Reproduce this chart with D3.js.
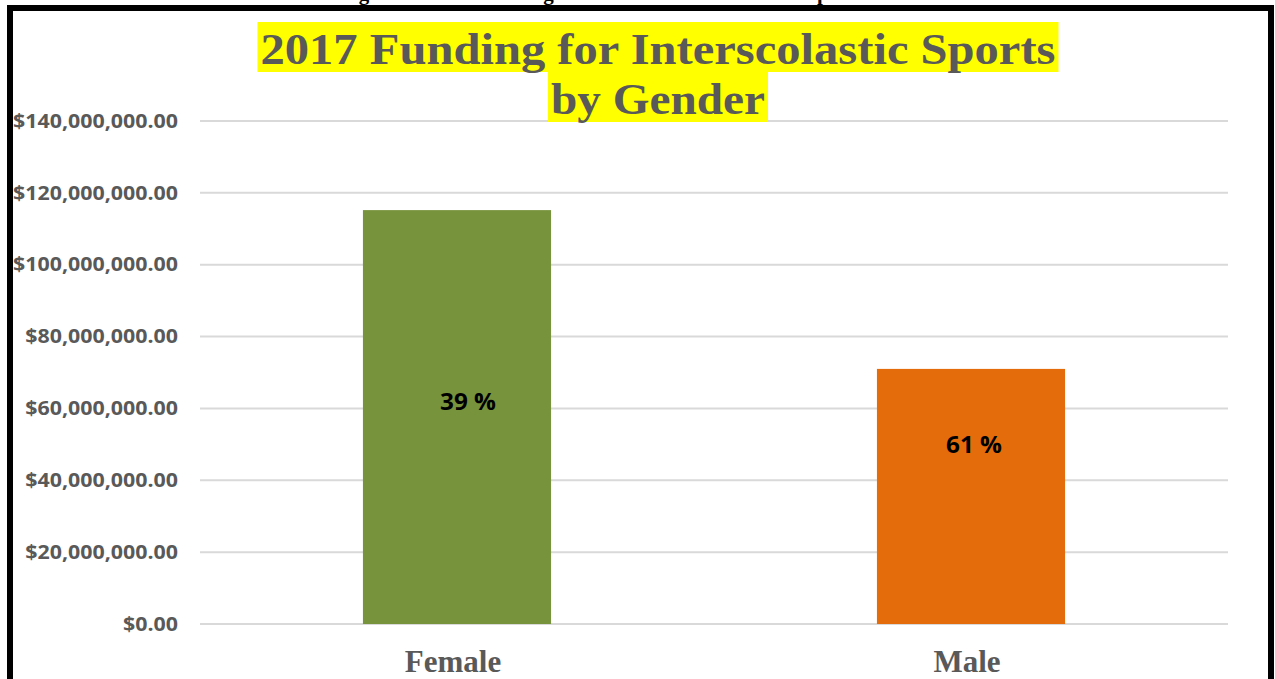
<!DOCTYPE html>
<html>
<head>
<meta charset="utf-8">
<script src="https://cdn.jsdelivr.net/npm/d3@7"></script>
<style>
html,body{margin:0;padding:0;background:#fff;}
svg{display:block;}
</style>
</head>
<body>
<svg id="chart" width="1275" height="679"></svg>
<script>
const categories = ["Female", "Male"];
const values = [115200000, 71000000];
const pctLabels = ["39 %", "61 %"];
const pctLabelAnchors = [62000000, 50000000];
const yTicks = [0, 20000000, 40000000, 60000000, 80000000, 100000000, 120000000, 140000000];
const titleLines = ["2017 Funding for Interscolastic Sports", "by Gender"];
const captionText = "Figure 2: Total Funding Allocated for Interscolastic Sports";
const colors = ["#77933C", "#E46C0A"];

const svg = d3.select("#chart");
const W = 1275, H = 679;
const plot = {left: 200, right: 1228, top: 121, bottom: 624};
const labelDx = [11, 3];

svg.append("rect").attr("width", W).attr("height", H).attr("fill", "#fff");

// partially cut caption above frame (as in the reference)
svg.append("text")
  .attr("x", 340).attr("y", 0)
  .attr("font-family", "Liberation Serif, Times New Roman, serif")
  .attr("font-weight", "bold").attr("font-size", 21)
  .attr("fill", "#000")
  .text(captionText);

// frame
svg.append("rect")
  .attr("x", 10).attr("y", 8).attr("width", 1261).attr("height", 700)
  .attr("fill", "none").attr("stroke", "#000").attr("stroke-width", 6);

const x = d3.scaleBand().domain(categories).range([plot.left, plot.right]).paddingInner(0.634).paddingOuter(0.317);
const y = d3.scaleLinear().domain([0, 140000000]).range([plot.bottom, plot.top]);

// gridlines
svg.append("g").selectAll("line").data(yTicks).join("line")
  .attr("x1", plot.left).attr("x2", plot.right)
  .attr("y1", d => y(d)).attr("y2", d => y(d))
  .attr("stroke", "#d9d9d9").attr("stroke-width", 2);

// y axis labels
const fmt = d => "$" + d3.format(",.2f")(d);
const yAxis = svg.append("g").attr("transform", `translate(${plot.left},0)`)
  .call(d3.axisLeft(y).tickValues(yTicks).tickFormat(fmt).tickSize(0).tickPadding(22));
yAxis.select(".domain").remove();
const yTexts = yAxis.selectAll("text")
  .attr("font-family", "Open Sans, Noto Sans, sans-serif")
  .attr("font-weight", "bold").attr("font-size", 19.5)
  .attr("fill", "#595959");
let maxLen = 0;
yTexts.each(function(){ maxLen = Math.max(maxLen, this.getComputedTextLength()); });
const squeeze = 165 / maxLen;
yTexts.each(function(){
  const len = this.getComputedTextLength();
  d3.select(this).attr("textLength", len * squeeze).attr("lengthAdjust", "spacingAndGlyphs");
});

// bars
svg.append("g").selectAll("rect").data(categories).join("rect")
  .attr("x", d => x(d)).attr("width", x.bandwidth())
  .attr("y", (d, i) => y(values[i]))
  .attr("height", (d, i) => y(0) - y(values[i]))
  .attr("fill", (d, i) => colors[i]);

// percent labels
svg.append("g").selectAll("text").data(categories).join("text")
  .attr("x", (d, i) => x(d) + x.bandwidth() / 2 + labelDx[i])
  .attr("y", (d, i) => y(pctLabelAnchors[i]))
  .attr("text-anchor", "middle").attr("dominant-baseline", "central")
  .attr("font-family", "Open Sans, Noto Sans, sans-serif")
  .attr("font-weight", "bold").attr("font-size", 23)
  .attr("fill", "#000")
  .attr("textLength", 56).attr("lengthAdjust", "spacingAndGlyphs")
  .text((d, i) => pctLabels[i]);

// x labels
svg.append("g").selectAll("text").data(categories).join("text")
  .attr("x", d => x(d) + x.bandwidth() / 2 - 4)
  .attr("y", 672)
  .attr("text-anchor", "middle")
  .attr("font-family", "Liberation Serif, Times New Roman, serif")
  .attr("font-weight", "bold").attr("font-size", 31)
  .attr("fill", "#595959")
  .text(d => d);

// title with yellow highlight
const titleG = svg.append("g");
const titleWidths = [795, 214];
titleLines.forEach((line, i) => {
  const cx = 658;
  const base = 64 + i * 50;
  const w = titleWidths[i];
  titleG.append("rect")
    .attr("x", cx - w / 2 - 3).attr("y", base - 42).attr("width", w + 6).attr("height", 50)
    .attr("fill", "#ffff00");
  titleG.append("text")
    .attr("x", cx).attr("y", base)
    .attr("text-anchor", "middle")
    .attr("font-family", "Liberation Serif, Times New Roman, serif")
    .attr("font-weight", "bold").attr("font-size", 45)
    .attr("fill", "#595959")
    .attr("textLength", w).attr("lengthAdjust", "spacingAndGlyphs")
    .text(line);
});
</script>
</body>
</html>
